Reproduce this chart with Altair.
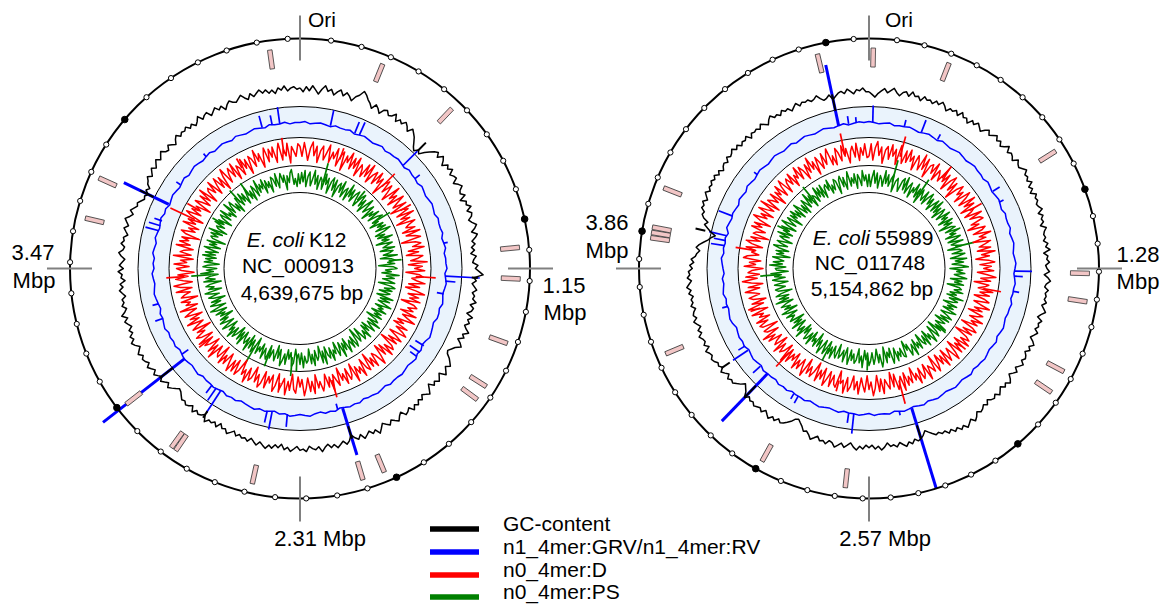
import math
import altair as alt
import pandas as pd

FONT = "Liberation Sans"

# ---------------- data ----------------
genome_names = ["K12", "55989"]
genome_len_mbp = [4.639675, 5.154862]

# GC-content deviation (black track), 360 samples equally spaced along each genome
gc_k12 = [2,-1,3,0,4,1,-2,2,5,1,3,-1,2,4,0,3,1,-2,2,4,
          8,6,3,1,-2,2,0,-3,1,2,-1,0,3,-2,1,-1,2,0,-3,1,
          -1,-3,-6,-9,-11,-8,-10,-6,-3,0,2,-1,3,1,-2,2,0,3,-1,1,
          2,-2,1,3,0,-1,2,-3,1,0,3,-1,2,1,-2,0,3,1,-2,2,
          0,-3,-1,-4,-2,-5,-1,-3,-4,0,-2,1,4,-3,-1,-4,-2,0,-3,-1,
          -2,1,-3,0,-1,-4,1,-2,0,-3,-1,2,-2,0,-4,-1,1,-3,-5,-7,
          -6,-3,-1,1,-2,0,2,-3,-1,1,-2,0,-4,-1,2,0,-2,1,-1,2,
          0,3,-1,1,2,-2,0,3,1,-1,2,0,-2,1,4,0,2,-1,1,3,
          -1,2,0,-3,1,3,0,2,4,1,3,0,2,5,1,3,2,0,4,2,
          3,0,2,4,1,3,-1,2,0,3,1,4,2,0,3,1,-1,2,0,1,
          -1,1,-2,0,2,-1,0,-3,1,-2,0,-1,2,-3,-1,0,-2,1,-3,-1,
          0,-2,-1,-3,-5,-6,-4,-2,0,-3,-1,1,-2,0,2,-1,1,3,0,2,
          3,1,4,2,0,3,5,2,4,1,3,0,2,4,1,5,2,0,3,1,
          2,-1,1,3,0,2,-2,1,0,3,-1,2,0,-2,1,3,0,-1,2,0,
          1,-2,0,2,-1,1,3,0,-2,1,-1,-3,-2,-4,-6,-5,-7,-4,-6,-3,
          -2,0,-3,-1,1,-2,0,2,-1,1,3,0,-1,2,0,-2,1,3,0,2,
          1,3,0,2,-1,1,4,0,2,3,-1,1,3,0,2,-2,1,3,1,0,
          2,4,1,-1,3,0,2,4,1,3,0,2,-1,3,1,4,0,2,3,1]
gc_55989 = [-1,-3,-5,-2,0,2,-1,1,3,0,-2,1,2,-1,3,0,1,-2,2,0,
            1,-1,2,0,3,1,-2,1,0,2,-1,3,0,1,-2,2,0,3,1,-1,
            2,4,1,3,5,2,4,1,3,6,2,4,3,1,5,3,2,4,6,3,
            4,2,5,1,3,0,4,2,3,1,2,4,0,3,1,2,-1,3,1,0,
            1,-1,2,0,3,-2,1,0,2,-1,0,2,-2,1,3,0,-1,2,0,1,
            0,2,-1,1,3,0,-2,2,0,1,-1,2,0,-2,1,3,0,2,-1,1,
            2,0,3,1,-1,2,0,-2,1,3,0,2,-1,1,3,0,2,1,-1,2,
            0,2,3,1,4,6,3,5,7,4,6,3,5,2,4,1,2,0,1,-1,
            -3,-5,-2,0,1,-1,2,0,3,1,-1,2,0,1,-2,1,3,0,2,-1,
            1,-1,2,0,3,1,-2,0,2,-1,1,3,0,-1,2,0,1,-2,0,2,
            -1,-3,-2,-5,-7,-9,-8,-5,-3,-1,0,-2,1,-1,2,0,-2,1,-1,0,
            1,-1,0,-2,1,-3,-5,-7,-4,-2,0,-1,1,-2,0,2,-1,1,0,2,
            3,1,2,4,0,3,1,2,4,1,3,0,2,4,1,3,2,0,3,1,
            2,0,3,1,4,2,0,3,1,2,-1,1,-2,0,-3,-4,-6,-3,-5,-8,
            -11,-13,-16,-12,-9,-6,-8,-4,-2,-3,0,-1,1,-2,0,2,-1,1,0,2,
            0,2,-1,1,-2,0,1,-1,2,0,1,3,0,2,-1,1,0,2,-2,1,
            0,1,-1,2,0,-2,1,3,0,1,-1,2,0,1,-2,0,2,-1,1,0,
            1,-1,0,2,-1,-3,-2,0,-4,-2,0,1,-1,2,0,-2,1,0,2,-1]

# n1_4mer:GRV/n1_4mer:RV (blue track) baseline, 180 samples
blue_k12 = [0,1,-1,0,1,0,-1,1,0,0, 1,-1,0,1,0,-1,0,1,-1,0, 0,1,0,-1,1,0,0,-1,1,0,
            -1,0,1,0,-1,1,0,0,1,-1, 0,1,-1,0,0,1,-1,0,1,0, -1,0,1,-1,0,0,-2,-1,0,1,
            -1,-2,0,-1,1,0,-1,0,1,0, 0,1,-1,0,1,0,0,-1,1,0, 1,0,-1,1,0,1,-1,0,2,1,
            0,1,2,0,1,-1,0,1,0,2, 1,0,-1,1,0,1,-1,0,1,0, 0,-1,1,0,-1,0,1,0,-1,1,
            0,1,0,2,1,0,1,-1,0,1, 2,1,0,1,2,0,1,0,2,1, 0,2,1,0,1,2,0,1,-1,0,
            1,0,-1,0,1,-1,0,1,0,-1, 0,1,-1,0,1,0,-1,1,0,-1, 0,1,0,-1,1,0,0,1,-1,0]
blue_55989 = [1,0,-1,0,1,-1,0,0,1,0, -1,0,1,0,-1,1,0,-1,0,1, 0,-1,0,1,0,0,-1,1,0,-1,
              0,1,0,-1,1,0,0,1,-1,0, 1,0,-1,0,1,0,-1,0,1,0, 0,-1,1,0,0,-1,0,1,0,-1,
              1,0,-1,0,1,0,0,-1,1,0, -1,0,1,0,-1,0,1,0,-1,1, 0,-1,0,1,0,-1,1,0,0,1,
              -1,0,1,0,0,-1,1,0,-1,0, 1,0,-1,1,0,0,-1,1,0,1, -1,0,0,1,-1,0,1,0,-1,1,
              0,1,0,-1,1,2,1,0,1,0, 2,1,0,1,-1,0,1,2,0,1, 0,1,-1,2,1,0,1,0,-1,1,
              0,-1,1,0,-1,0,1,0,-1,0, 1,0,-1,0,1,-1,0,1,0,-1, 0,1,0,-1,0,1,-1,0,1,0]

# n0_4mer:D (red track), 360 samples
red_k12 = [5,-3,8,1,-6,4,9,-2,6,-7,3,7,-4,2,9,-5,4,-1,8,-6,
           3,7,-8,5,0,9,-4,6,-2,8,-7,4,1,-5,7,-3,9,-6,2,6,
           -4,8,-1,5,-9,3,7,-3,6,0,-7,9,-2,4,-6,8,1,-4,7,-8,
           2,6,-5,9,-3,4,-8,7,1,-2,5,-6,8,-4,3,7,-9,2,6,-1,
           8,-5,3,-7,6,2,-4,9,-6,5,-1,7,-8,3,6,-3,1,8,-5,4,
           -7,2,9,-4,5,-2,7,-8,3,6,-1,4,-6,8,-3,2,9,-5,1,-7,
           6,-3,4,8,-6,1,7,-4,5,-9,3,6,-2,8,-5,4,-7,2,9,-1,
           -4,7,-2,5,-8,6,3,-6,8,-1,4,-3,9,-7,2,5,-5,7,-2,3,
           -8,6,1,-4,9,-3,5,-6,2,7,-1,4,-7,8,-2,6,-5,3,9,-4,
           2,-6,7,4,-8,5,-2,9,-4,1,6,-7,3,8,-5,2,-3,7,-6,4,
           8,-2,5,-7,3,6,-4,9,-1,4,-8,2,7,-5,6,-3,8,1,-6,5,
           -2,7,-8,4,2,-5,9,-3,6,-7,1,5,-4,8,-6,3,7,-2,4,-9,
           6,1,-5,8,-3,4,-7,7,2,-4,9,-6,3,-1,6,-8,5,2,-3,8,
           -5,4,9,-6,1,7,-3,5,-8,2,6,-4,8,-2,3,-7,9,-5,4,1,
           -6,8,-3,6,-1,5,-9,3,7,-4,2,-6,8,-2,5,-7,4,9,-3,6,
           -1,4,-8,7,2,-5,6,-3,9,-7,3,5,-2,8,-6,1,7,-4,5,-8,
           3,9,-5,2,6,-3,8,-7,4,1,-6,7,-2,5,-8,6,3,-4,9,-1,
           5,-7,2,8,-4,6,-1,7,-6,3,9,-5,4,-2,8,-8,5,1,-3,7]
red_55989 = [-3,7,-6,4,9,-2,5,-8,3,6,-4,8,-1,5,-7,9,2,-5,6,-3,
             8,-1,4,-7,6,2,-5,9,-3,7,-8,3,5,-2,8,-6,4,1,-4,9,
             -2,6,-7,3,8,-4,5,-9,2,7,-1,4,-6,8,3,-5,9,-2,6,-7,
             4,1,-6,8,-3,5,7,-4,2,-8,6,3,-5,9,-1,4,-7,7,2,-3,
             6,-5,9,-2,4,-7,3,8,-4,5,-1,7,-6,2,9,-3,5,-8,4,1,
             -4,8,-2,6,-6,3,7,-5,1,9,-3,4,-7,6,2,-4,8,-1,5,-8,
             3,7,-4,5,-9,2,6,-1,8,-5,4,-2,7,-7,3,9,-4,1,6,-6,
             8,-3,4,-6,2,7,-8,5,1,-2,9,-5,3,6,-4,8,-1,4,-7,5,
             -1,6,-5,9,-3,2,7,-6,4,-8,5,1,-3,8,-4,6,-7,3,9,-2,
             4,-7,6,1,-5,8,-2,5,-6,3,7,-4,9,-1,2,-8,6,4,-3,7,
             -5,2,8,-6,4,-3,7,-8,1,6,-2,5,-7,9,3,-4,6,-1,8,-5,
             3,-2,7,-4,9,-6,2,5,-3,8,-7,4,1,-5,6,-1,9,-6,3,5,
             -8,4,6,-2,7,-5,3,-1,8,-6,2,9,-4,5,-7,3,6,-3,1,8,
             -4,5,-7,2,9,-3,6,-5,4,1,-8,7,-2,3,-6,8,5,-4,2,-1,
             7,-6,3,8,-3,5,-9,4,2,-5,7,-1,6,-7,3,9,-2,4,-6,8,
             1,-4,9,-7,5,2,-3,6,-8,4,-1,7,-5,3,8,-6,2,5,-2,7,
             -6,3,-1,8,-4,6,2,-7,5,-3,9,-2,4,-8,6,1,-5,7,-3,4,
             9,-5,2,-6,7,3,-4,8,-1,5,-7,2,6,-3,8,-6,4,-2,7,-4]

# n0_4mer:PS (green track), 360 samples
green_k12 = [-4,6,-2,8,-6,3,7,-5,1,9,-3,5,-7,4,2,-6,8,-1,5,-8,
             3,7,-4,6,-9,2,5,-3,8,-6,1,4,-7,9,-2,6,-5,3,7,-1,
             -6,4,8,-3,5,-7,2,9,-4,1,6,-8,3,-2,7,-5,4,8,-3,2,
             -7,5,-1,6,-4,9,3,-6,2,-5,8,-2,4,-8,6,1,-3,7,-6,5,
             2,-4,8,-7,3,6,-1,5,-9,4,7,-3,2,-6,9,-2,5,-5,1,6,
             -8,3,7,-2,5,-6,4,1,-7,8,-3,6,-4,2,9,-5,3,-1,7,-6,
             4,-2,6,-8,2,5,-4,9,-3,1,7,-6,3,-5,8,-1,4,6,-7,2,
             5,-9,3,7,-4,6,-2,1,8,-6,4,-3,9,-5,2,6,-7,3,-1,8,
             -4,5,2,-6,9,-3,7,-8,1,4,-5,8,-2,6,-7,3,5,-1,9,-4,
             6,-3,1,-7,5,8,-4,2,-6,7,-2,4,9,-5,3,-8,6,1,-3,5,
             -6,7,4,-2,8,-5,3,-1,6,-8,2,7,-4,5,-7,9,-3,4,1,-6,
             8,-4,5,-7,2,6,-3,9,-1,4,-6,3,8,-5,1,7,-2,5,-8,3,
             -2,6,-5,4,9,-6,1,7,-3,5,-8,2,6,-4,3,8,-7,4,-1,6,
             2,-8,7,-3,5,1,-6,9,-2,4,-5,7,3,-7,6,-1,5,-4,8,-3,
             6,-5,2,8,-6,4,-2,7,-9,3,5,-1,6,-4,9,-7,2,4,-3,7,
             -1,5,-7,3,6,-4,8,-2,1,-6,9,-3,4,7,-5,2,-8,6,3,-4,
             7,-2,5,-6,1,8,-4,3,-7,6,2,-5,9,-3,4,-1,7,-6,5,-2,
             3,-7,6,4,-3,8,-5,2,7,-1,5,-8,4,-2,6,9,-4,1,-6,5]
green_55989 = [5,-6,2,8,-3,6,-7,4,1,-5,9,-2,6,-4,3,7,-8,2,5,-1,
               -6,4,7,-3,9,-5,2,6,-7,3,-1,8,-4,5,-8,6,1,-3,7,-5,
               3,8,-2,5,-6,1,7,-4,9,-3,4,-7,6,2,-5,8,-1,4,-6,7,
               -2,5,-8,3,6,-4,9,-1,4,-6,7,2,-5,8,-3,1,6,-7,3,5,
               -4,7,1,-6,8,-2,5,-5,3,9,-7,4,-1,6,-3,2,8,-6,4,-2,
               6,-8,3,5,-1,7,-4,2,-6,9,-3,5,1,-7,6,-2,4,-5,8,3,
               -5,2,7,-3,6,-7,4,1,-4,8,-2,5,-8,3,7,-6,2,9,-1,4,
               -6,8,-3,5,2,-7,6,-1,4,-5,9,-2,3,7,-4,1,-8,6,5,-3,
               4,-1,7,-5,3,8,-6,2,-3,6,-8,4,9,-2,5,-7,1,6,-4,3,
               7,-4,2,-6,9,-1,5,-7,3,6,-2,4,-5,8,1,-6,7,-3,2,5,
               -7,6,3,-4,8,-2,5,-6,1,7,-5,2,9,-3,4,-8,6,-1,3,-6,
               8,-3,4,6,-5,2,-7,9,-2,5,1,-6,7,-4,3,-8,5,2,-1,6,
               -5,3,8,-7,4,-2,6,1,-6,9,-3,5,-4,7,2,-8,4,6,-3,1,
               6,-6,2,7,-4,5,-1,8,-7,3,4,-5,9,-2,6,-3,1,7,-8,4,
               -2,5,-6,3,8,-4,2,6,-7,1,5,-3,8,-5,4,-1,7,-6,3,9,
               -4,2,6,-8,5,-1,7,-3,4,-6,8,2,-5,3,-7,6,1,-4,9,-2,
               5,-7,3,1,-5,8,-2,6,-4,7,-6,3,5,-1,8,-5,2,-3,6,4,
               -8,4,7,-3,5,-6,2,9,-4,3,-2,6,-7,5,1,-5,8,-1,4,-6]

# narrow peaks: position (Mbp) and height
blue_k12_peak_pos = [4.446,4.498,4.537,0.155,0.284,0.309,0.580,0.670,1.031,1.199,1.224,1.289,
                     1.572,1.611,1.637,2.127,2.384,2.462,2.487,2.745,2.771,2.797,3.016,3.222,
                     3.299,3.673,3.699,3.725,3.931,4.124]
blue_k12_peak_val = [12,10,17,16,12,14,20,6,4,34,10,-7,-10,-12,-8,-6,13,18,12,26,15,10,-8,8,
                     6,14,12,8,5,4]
blue_k12_big_pos = [2.101, 2.990, 3.815]
blue_k12_big_val = [49, 104, 50]
blue_55989_peak_pos = [5.040,5.083,0.021,0.200,0.301,0.401,0.831,0.902,1.303,1.332,1.418,2.406,
                       2.663,2.692,2.993,3.021,3.265,3.379,3.408,3.651,3.995,4.024,4.052,4.167,4.439]
blue_55989_peak_val = [8,6,17,7,13,6,8,5,17,8,6,4,20,10,8,6,10,18,8,6,14,12,18,15,4]
blue_55989_big_pos = [4.983, 2.334, 3.207]
blue_55989_big_val = [62, 84, 66]

gc_k12_peak_pos = [0.580, 1.199, 2.101, 2.745, 2.990, 3.815]
gc_k12_peak_val = [-11, -6, -13, -8, -17, -15]
gc_55989_peak_pos = [4.983, 2.334, 3.207, 3.379, 4.052]
gc_55989_peak_val = [-17, -14, -15, -10, -10]

red_k12_peak_pos = [4.537,0.258,0.580,0.773,1.211,2.114,2.449,2.990,3.428,3.802,3.866,4.253]
red_k12_peak_val = [16,12,18,12,20,18,10,12,18,27,14,11]
red_55989_peak_pos = [4.983,0.222,0.558,0.859,1.432,2.363,3.200,3.995,3.580,2.792,1.861]
red_55989_peak_val = [22,21,15,14,18,24,19,19,10,11,10]

green_k12_peak_pos = [0.193,0.748,1.095,2.346,2.384,2.578,2.706,3.428,4.098,4.189,0.516,3.866]
green_k12_peak_val = [20,17,13,14,19,15,20,20,16,15,12,12]
green_55989_peak_pos = [0.215,0.487,1.088,3.809,4.596,2.964,2.592,1.861,4.224]
green_55989_peak_val = [23,18,19,20,16,14,13,11,12]

# feature boxes (Mbp)
feature_k12 = [4.538,0.284,0.561,1.089,1.195,1.416,1.577,1.630,2.030,2.106,2.481,2.762,2.780,
               2.990,3.650,3.792]
feature_55989 = [4.961,0.016,0.305,0.828,1.307,1.413,1.688,1.778,2.666,2.993,3.540,3.981,
                 4.001,4.021,4.173]

legend_labels = ["GC-content", "n1_4mer:GRV/n1_4mer:RV", "n0_4mer:D", "n0_4mer:PS"]
legend_colors = ["#000000", "#0000FF", "#FF0000", "#008000"]

# ---------------- layout ----------------
CENTER = {"K12": (300.0, 268.5), "55989": (869.0, 268.5)}
R_GC, R_BLUE, R_RED, R_GREEN = 178, 146, 116, 89
K_GC, K_BLUE, K_RED, K_GREEN = 1.3, 1.0, 1.25, 1.15   # radial px per data unit
R_OUT, R_FEAT = 230, 211
R_BAND_OUT, R_BAND_IN = 162, 131
RING_LINES = [162, 131, 103, 76]

glen = dict(zip(genome_names, genome_len_mbp))


def circ_size(r):
    # Vega circle symbol: radius = sqrt(size) / 2
    return (2 * r) ** 2


def track_rows(g, vals, base, k):
    cx, cy = CENTER[g]
    n = len(vals)
    return [dict(g=g, idx=i, pos=glen[g] * i / n, v=vals[i % n], k=k, base=base,
                 cx=cx, cy=cy, L=glen[g]) for i in range(n + 1)]


def peak_rows(g, pos, vals, base):
    cx, cy = CENTER[g]
    return [dict(g=g, pos=p, v=v, k=1, base=base, cx=cx, cy=cy, L=glen[g]) for p, v in zip(pos, vals)]


XS = alt.Scale(domain=[8, 1160], nice=False, zero=False)
YS = alt.Scale(domain=[8, 604], nice=False, zero=False, reverse=True)
X = alt.X("x:Q", scale=XS, axis=None)
Y = alt.Y("y:Q", scale=YS, axis=None)


def polar_point(ch, rexpr="datum.base + datum.k*datum.v"):
    return (ch.transform_calculate(a="2*PI*datum.pos/datum.L", r=rexpr)
              .transform_calculate(x="datum.cx + datum.r*sin(datum.a)",
                                   y="datum.cy - datum.r*cos(datum.a)",
                                   adeg="360*datum.pos/datum.L"))


def line_layer(rows, color, width):
    ch = alt.Chart(pd.DataFrame(rows)).mark_line(color=color, strokeWidth=width, strokeJoin="round")
    return polar_point(ch).encode(x=X, y=Y, detail="g:N", order="idx:Q")


def rule_layer(rows, color, width, r1="datum.base", r2="datum.base + datum.k*datum.v"):
    ch = alt.Chart(pd.DataFrame(rows)).mark_rule(color=color, strokeWidth=width, strokeCap="butt")
    ch = (ch.transform_calculate(a="2*PI*datum.pos/datum.L", r1=r1, r2=r2)
            .transform_calculate(x="datum.cx + datum.r1*sin(datum.a)",
                                 y="datum.cy - datum.r1*cos(datum.a)",
                                 x2="datum.cx + datum.r2*sin(datum.a)",
                                 y2="datum.cy - datum.r2*cos(datum.a)"))
    return ch.encode(x=X, y=Y, x2="x2:Q", y2="y2:Q")


layers = []

# ring backgrounds and ring lines
disc_rows = []
for g in genome_names:
    cx, cy = CENTER[g]
    disc_rows.append(dict(x=cx, y=cy, s=circ_size(R_BAND_OUT), f="#EAF3FC"))
    disc_rows.append(dict(x=cx, y=cy, s=circ_size(R_BAND_IN), f="#FFFFFF"))
layers.append(alt.Chart(pd.DataFrame(disc_rows)).mark_point(shape="circle", filled=True, opacity=1,
                                                            strokeWidth=0)
              .encode(x=X, y=Y, size=alt.Size("s:Q", scale=None), fill=alt.Fill("f:N", scale=None),
                      order=alt.Order("s:Q", sort="descending")))
ring_rows = [dict(x=CENTER[g][0], y=CENTER[g][1], s=circ_size(r)) for g in genome_names for r in RING_LINES]
layers.append(alt.Chart(pd.DataFrame(ring_rows)).mark_point(shape="circle", filled=False, opacity=1,
                                                            stroke="#000000", strokeWidth=1)
              .encode(x=X, y=Y, size=alt.Size("s:Q", scale=None)))

# tracks
tracks = [
    (green_k12, green_55989, R_GREEN, K_GREEN, "#008000",
     (green_k12_peak_pos, green_k12_peak_val), (green_55989_peak_pos, green_55989_peak_val)),
    (red_k12, red_55989, R_RED, K_RED, "#FF0000",
     (red_k12_peak_pos, red_k12_peak_val), (red_55989_peak_pos, red_55989_peak_val)),
    (blue_k12, blue_55989, R_BLUE, K_BLUE, "#0000FF",
     (blue_k12_peak_pos, blue_k12_peak_val), (blue_55989_peak_pos, blue_55989_peak_val)),
]
for v1, v2, base, k, color, pk1, pk2 in tracks:
    rows = track_rows("K12", v1, base, k) + track_rows("55989", v2, base, k)
    layers.append(line_layer(rows, color, 1.5))
    prow = peak_rows("K12", pk1[0], pk1[1], base) + peak_rows("55989", pk2[0], pk2[1], base)
    layers.append(rule_layer(prow, color, 1.7))

big_rows = (peak_rows("K12", blue_k12_big_pos, blue_k12_big_val, R_BLUE)
            + peak_rows("55989", blue_55989_big_pos, blue_55989_big_val, R_BLUE))
layers.append(rule_layer(big_rows, "#0000FF", 3))

gc_rows = track_rows("K12", gc_k12, R_GC, K_GC) + track_rows("55989", gc_55989, R_GC, K_GC)
layers.append(line_layer(gc_rows, "#000000", 1.5))
gcp = (peak_rows("K12", gc_k12_peak_pos, gc_k12_peak_val, R_GC)
       + peak_rows("55989", gc_55989_peak_pos, gc_55989_peak_val, R_GC))
layers.append(rule_layer(gcp, "#000000", 2))

# outer ring
out_rows = [dict(x=CENTER[g][0], y=CENTER[g][1], s=circ_size(R_OUT)) for g in genome_names]
layers.append(alt.Chart(pd.DataFrame(out_rows)).mark_point(shape="circle", filled=False, opacity=1,
                                                           stroke="#000000", strokeWidth=2)
              .encode(x=X, y=Y, size=alt.Size("s:Q", scale=None)))

# quarter ticks
tick_rows = []
for g in genome_names:
    cx, cy = CENTER[g]
    for q in range(4):
        tick_rows.append(dict(g=g, pos=glen[g] * q / 4, v=0, k=1, base=0, cx=cx, cy=cy, L=glen[g]))
layers.append(rule_layer(tick_rows, "#808080", 2, r1="208", r2="253"))

# 100 kb markers
mk_open, mk_full = [], []
for g in genome_names:
    cx, cy = CENTER[g]
    j = 1
    while j * 0.1 < glen[g]:
        row = dict(g=g, pos=j * 0.1, v=0, k=1, base=R_OUT, cx=cx, cy=cy, L=glen[g])
        (mk_full if j % 10 == 0 else mk_open).append(row)
        j += 1
layers.append(polar_point(alt.Chart(pd.DataFrame(mk_open)).mark_point(
    shape="circle", filled=True, fill="#FFFFFF", stroke="#000000", strokeWidth=1, opacity=1,
    size=circ_size(2.6))).encode(x=X, y=Y))
layers.append(polar_point(alt.Chart(pd.DataFrame(mk_full)).mark_point(
    shape="circle", filled=True, fill="#000000", stroke="#000000", strokeWidth=1, opacity=1,
    size=circ_size(3.3))).encode(x=X, y=Y))

# feature boxes
BAR = "M -0.24 -1 L 0.24 -1 L 0.24 1 L -0.24 1 Z"
feat_rows = ([dict(g="K12", pos=p, v=0, k=1, base=R_FEAT, cx=CENTER["K12"][0], cy=CENTER["K12"][1],
                   L=glen["K12"]) for p in feature_k12]
             + [dict(g="55989", pos=p, v=0, k=1, base=R_FEAT, cx=CENTER["55989"][0], cy=CENTER["55989"][1],
                     L=glen["55989"]) for p in feature_55989])
layers.append(polar_point(alt.Chart(pd.DataFrame(feat_rows)).mark_point(
    shape=BAR, filled=True, fill="#F2C6C6", stroke="#3A3A3A", strokeWidth=0.8, opacity=1, size=361))
    .encode(x=X, y=Y, angle=alt.Angle("adeg:Q", scale=None)))

# texts
txt_center = pd.DataFrame([
    dict(x=298, y=273, t="NC_000913", s=21), dict(x=302, y=300, t="4,639,675 bp", s=21),
    dict(x=870, y=270, t="NC_011748", s=21), dict(x=872, y=296, t="5,154,862 bp", s=21),
    dict(x=33, y=260, t="3.47", s=22), dict(x=34, y=288, t="Mbp", s=22),
    dict(x=564, y=293, t="1.15", s=22), dict(x=565, y=320, t="Mbp", s=22),
    dict(x=320, y=546, t="2.31 Mbp", s=22),
    dict(x=607, y=230, t="3.86", s=22), dict(x=607, y=258, t="Mbp", s=22),
    dict(x=1138, y=262, t="1.28", s=22), dict(x=1138, y=289, t="Mbp", s=22),
    dict(x=885, y=546, t="2.57 Mbp", s=22),
])
layers.append(alt.Chart(txt_center).mark_text(align="center", baseline="alphabetic", font=FONT, color="#000000")
              .encode(x=X, y=Y, text="t:N", size=alt.Size("s:Q", scale=None)))
txt_left = pd.DataFrame([
    dict(x=309, y=247, t="K12"), dict(x=875, y=245, t="55989"),
    dict(x=308, y=27, t="Ori"), dict(x=885, y=27, t="Ori"),
])
layers.append(alt.Chart(txt_left).mark_text(align="left", baseline="alphabetic", font=FONT, fontSize=21,
                                            color="#000000")
              .encode(x=X, y=Y, text="t:N"))
txt_ital = pd.DataFrame([dict(x=304, y=247, t="E. coli"), dict(x=870, y=245, t="E. coli")])
layers.append(alt.Chart(txt_ital).mark_text(align="right", baseline="alphabetic", font=FONT, fontSize=21,
                                            fontStyle="italic", color="#000000")
              .encode(x=X, y=Y, text="t:N"))

# legend
leg_y = [529, 552, 575, 597]
leg = pd.DataFrame(dict(t=legend_labels, c=legend_colors, y=leg_y))
layers.append(alt.Chart(leg).mark_rule(strokeWidth=5.5, strokeCap="butt")
              .encode(x=alt.datum(430, scale=XS), x2=alt.datum(479), y=alt.Y("y:Q", scale=YS, axis=None),
                      color=alt.Color("c:N", scale=None)))
layers.append(alt.Chart(leg).transform_calculate(ty="datum.y + 1.5")
              .mark_text(align="left", baseline="alphabetic", font=FONT, fontSize=21, color="#000000")
              .encode(x=alt.datum(503, scale=XS), y=alt.Y("ty:Q", scale=YS, axis=None), text="t:N"))

chart = (alt.layer(*layers)
         .properties(width=1152, height=596, padding=0, autosize=alt.AutoSizeParams(type="none"))
         .configure_view(stroke=None))
chart.save("out.html", embed_options={"renderer": "svg", "actions": False})
